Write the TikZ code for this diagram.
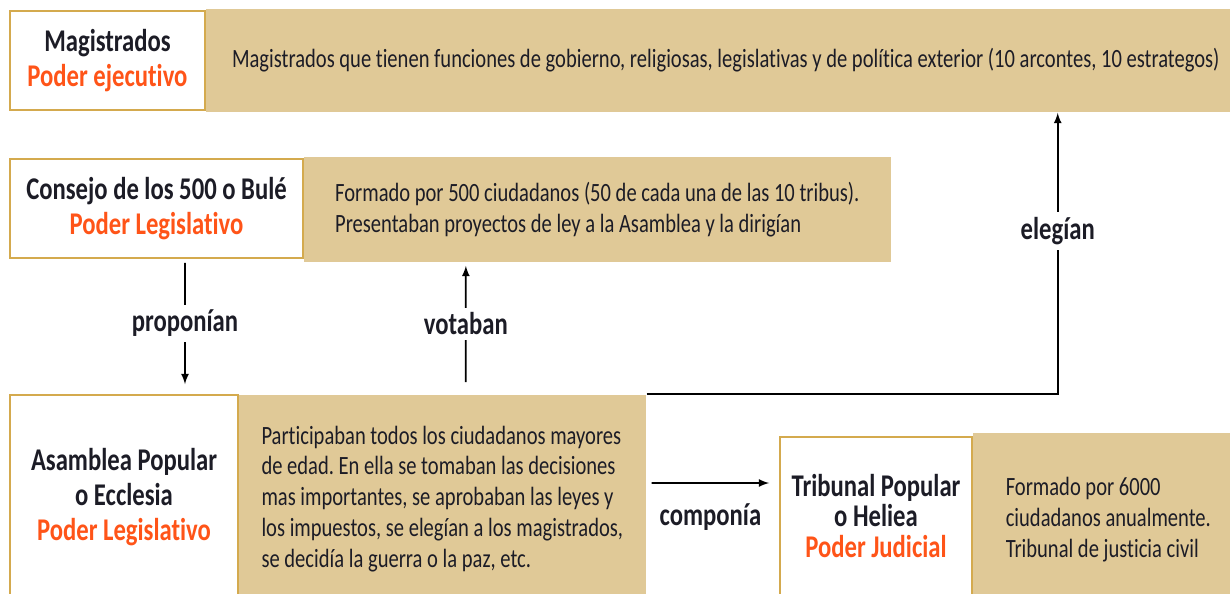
\documentclass[tikz,border=0pt]{standalone}
\usepackage{fontspec}
\setmainfont{Carlito}[FakeStretch=0.78, Ligatures=NoCommon]
\usetikzlibrary{arrows}

\definecolor{banda}{RGB}{224,201,151}
\definecolor{borde}{RGB}{212,170,78}
\definecolor{naranja}{RGB}{255,84,24}
\definecolor{tinta}{RGB}{28,28,38}

\newcommand{\poder}[1]{{\color{naranja}#1}}
\frenchspacing

\begin{document}
\begin{tikzpicture}[x=0.02cm, y=-0.02cm, >=latex, line width=1pt, text=tinta,
  organo/.style={draw=borde, fill=white, align=center, font=\fontsize{18}{20}\selectfont\bfseries},
  funcion/.style={fill=banda, align=left, anchor=west, inner sep=0pt, font=\fontsize{15}{17.6}\selectfont},
  verbo/.style={fill=white, inner sep=3pt, font=\fontsize{18}{20}\selectfont\bfseries}]
\useasboundingbox (0,0) rectangle (1230,594);

% magistrados
\node[funcion, minimum width=20.8cm, minimum height=2.06cm] (magtxt) at (205,60.5) {Magistrados que tienen funciones de gobierno, religiosas, legislativas y de política exterior (10 arcontes, 10 estrategos)};
\node[organo, minimum width=3.9cm, minimum height=1.98cm] (mag) at (107.5,60.5) {Magistrados\\\poder{Poder ejecutivo}};

% consejo
\node[funcion, minimum width=11.74cm, minimum height=2.1cm] (constxt) at (303,209.5) {Formado por 500 ciudadanos (50 de cada una de las 10 tribus).\\Presentaban proyectos de ley a la Asamblea y la dirigían};
\node[organo, minimum width=5.86cm, minimum height=1.98cm] (cons) at (156.5,208.5) {Consejo de los 500 o Bulé\\\poder{Poder Legislativo}};

% asamblea
\node[funcion, minimum width=8.14cm, minimum height=4.16cm] (asamtxt) at (238,499) {Participaban todos los ciudadanos mayores\\de edad. En ella se tomaban las decisiones\\mas importantes, se aprobaban las leyes y\\los impuestos, se elegían a los magistrados,\\se decidía la guerra o la paz, etc.};
\node[organo, minimum width=4.56cm, minimum height=4.08cm] (asam) at (124,497) {Asamblea Popular\\o Ecclesia\\\poder{Poder Legislativo}};

% tribunal
\node[funcion, minimum width=5.42cm, minimum height=3.48cm] (tribtxt) at (972,520) {Formado por 6000\\ciudadanos anualmente.\\Tribunal de justicia civil};
\node[organo, minimum width=3.84cm, minimum height=3.16cm, font=\fontsize{18}{17.5}\selectfont\bfseries] (trib) at (876,516) {Tribunal Popular\\o Heliea\\\poder{Poder Judicial}};

\path[]
([xshift=0.57cm,yshift=-0.08cm]cons.south) edge[->] node[verbo] {proponían} ([xshift=1.22cm,yshift=0.2cm]asam.north)
([xshift=0.47cm,yshift=0.24cm]asamtxt.north) edge[->] node[verbo] {votaban} ([xshift=-2.63cm,yshift=-0.06cm]constxt.south)
([xshift=0.1cm,yshift=0.32cm]asamtxt.east) edge[->] node[verbo, below=3mm] {componía} ([xshift=-0.2cm,yshift=0.66cm]trib.west)
;
\draw[->] (asamtxt.north east) -| node[verbo, pos=0.79] {elegían} ([xshift=6.64cm]magtxt.south);
\end{tikzpicture}
\end{document}
